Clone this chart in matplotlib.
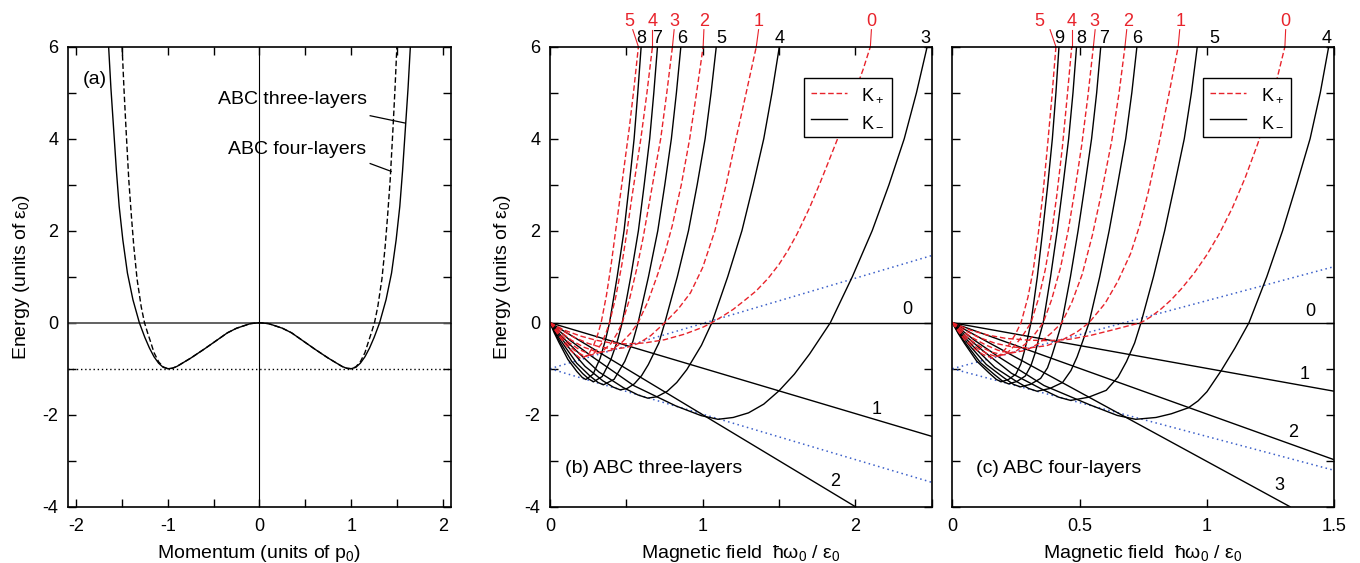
import numpy as np
import matplotlib
matplotlib.use('Agg')
import matplotlib.pyplot as plt
from matplotlib.ticker import MultipleLocator, FixedLocator, NullFormatter

plt.rcParams['font.family'] = ['Liberation Sans', 'DejaVu Sans']
plt.rcParams['mathtext.fontset'] = 'custom'
plt.rcParams['mathtext.rm'] = 'Liberation Sans'
plt.rcParams['mathtext.it'] = 'Liberation Sans:italic'
plt.rcParams['mathtext.sf'] = 'Liberation Sans'
plt.rcParams['mathtext.default'] = 'rm'
plt.rcParams['axes.unicode_minus'] = False

# ---------------- panel (a): dispersion, right half (mirrored) ----------------
a_p3 = [0, 0.1, 0.25, 0.35, 0.5, 0.6, 0.75, 0.9, 0.95, 1.0, 1.05, 1.1, 1.15, 1.2,
        1.25, 1.31, 1.38, 1.44, 1.49, 1.53, 1.56, 1.59, 1.62, 1.645]
a_e3 = [0, -0.02, -0.12, -0.22, -0.43, -0.57, -0.77, -0.95, -0.99, -1.0, -0.97, -0.88,
        -0.74, -0.55, -0.32, 0, 0.5, 1.08, 1.8, 2.53, 3.3, 4.2, 5.1, 6.0]
a_p4 = [0, 0.1, 0.25, 0.35, 0.5, 0.6, 0.75, 0.9, 0.95, 1.0, 1.05, 1.1, 1.15, 1.19,
        1.22, 1.254, 1.29, 1.335, 1.37, 1.396, 1.425, 1.455, 1.478, 1.498]
a_e4 = [0, -0.02, -0.12, -0.22, -0.43, -0.57, -0.77, -0.95, -0.99, -1.0, -0.96, -0.85,
        -0.65, -0.40, -0.22, 0, 0.35, 0.95, 1.65, 2.3, 3.1, 4.2, 5.1, 6.0]

# ---------------- panel (b): ABC three-layers ----------------
# K- (black)
b_km0_x = [0, 2.5];  b_km0_y = [0, 0]
b_km1_x = [0, 2.5];  b_km1_y = [0, -2.47]
b_km2_x = [0, 2.0];  b_km2_y = [0, -4.0]
b_km3_x = [0, 0.13, 0.275, 0.55, 0.825, 0.99, 1.10, 1.2, 1.3, 1.4, 1.50, 1.60, 1.70, 1.836,
           1.98, 2.11, 2.22, 2.32, 2.40, 2.47]
b_km3_y = [0, -0.38, -0.735, -1.37, -1.81, -2.02, -2.10, -2.06, -1.96, -1.77, -1.48, -1.12,
           -0.68, 0, 1, 2, 3, 4, 5, 6]
b_km4_x = [0, 0.077, 0.16, 0.32, 0.48, 0.576, 0.64, 0.70, 0.768, 0.83, 0.896, 0.992, 1.06,
           1.164, 1.257, 1.331, 1.40, 1.454, 1.502]
b_km4_y = [0, -0.30, -0.57, -1.07, -1.41, -1.57, -1.64, -1.61, -1.49, -1.30, -1.02, -0.49, 0,
           1, 2, 3, 4, 5, 6]
b_km5_x = [0, 0.055, 0.115, 0.23, 0.345, 0.414, 0.46, 0.505, 0.552, 0.60, 0.644, 0.713, 0.752,
           0.834, 0.907, 0.964, 1.016, 1.055, 1.089]
b_km5_y = [0, -0.26, -0.51, -0.95, -1.26, -1.40, -1.46, -1.43, -1.33, -1.15, -0.91, -0.44, 0,
           1, 2, 3, 4, 5, 6]
b_km6_x = [0, 0.042, 0.0875, 0.175, 0.2625, 0.315, 0.35, 0.42, 0.49, 0.5425, 0.577, 0.645,
           0.706, 0.752, 0.795, 0.828, 0.857]
b_km6_y = [0, -0.24, -0.47, -0.88, -1.16, -1.30, -1.35, -1.23, -0.84, -0.41, 0, 1, 2, 3, 4, 5, 6]
b_km7_x = [0, 0.034, 0.071, 0.1425, 0.214, 0.2565, 0.285, 0.342, 0.399, 0.442, 0.473, 0.529,
           0.579, 0.617, 0.653, 0.68, 0.704]
b_km7_y = [0, -0.23, -0.45, -0.84, -1.105, -1.23, -1.285, -1.17, -0.80, -0.39, 0, 1, 2, 3, 4, 5, 6]
b_km8_x = [0, 0.028, 0.059, 0.1175, 0.176, 0.2115, 0.235, 0.282, 0.329, 0.364, 0.39, 0.44,
           0.485, 0.519, 0.551, 0.575, 0.597]
b_km8_y = [0, -0.22, -0.43, -0.80, -1.06, -1.19, -1.235, -1.12, -0.77, -0.37, 0, 1, 2, 3, 4, 5, 6]
# K+ (red)
b_kp0_x = [0, 0.1, 0.2, 0.3, 0.4, 0.5, 0.62, 0.75, 0.88, 1.0, 1.06, 1.13, 1.2, 1.28, 1.35,
           1.43, 1.5, 1.56, 1.618, 1.7, 1.77, 1.83, 1.886, 1.94, 2.0, 2.05, 2.098]
b_kp0_y = [0, -0.17, -0.29, -0.38, -0.44, -0.46, -0.44, -0.37, -0.25, -0.1, 0, 0.14, 0.29,
           0.5, 0.69, 0.97, 1.27, 1.58, 1.93, 2.5, 3.05, 3.55, 4.02, 4.5, 5.05, 5.5, 6.0]
b_kp1_x = [0, 0.08, 0.16, 0.25, 0.33, 0.42, 0.5, 0.58, 0.66, 0.752, 0.84, 0.92, 1.0, 1.08,
           1.15, 1.215, 1.285, 1.351]
b_kp1_y = [0, -0.17, -0.32, -0.45, -0.53, -0.57, -0.54, -0.45, -0.28, 0, 0.3, 0.65, 1.2,
           2.0, 2.95, 3.95, 5.0, 6.0]
b_kp2_x = [0, 0.07, 0.14, 0.22, 0.32, 0.4, 0.47, 0.53, 0.577, 0.64, 0.7, 0.755, 0.8, 0.86,
           0.915, 0.96, 1.003]
b_kp2_y = [0, -0.2, -0.38, -0.53, -0.65, -0.6, -0.43, -0.22, 0, 0.45, 1.0, 1.55, 2.1, 3.0,
           4.0, 5.0, 6.0]
b_kp3_x = [0, 0.06, 0.12, 0.19, 0.27, 0.34, 0.4, 0.44, 0.473, 0.52, 0.57, 0.61, 0.65, 0.69,
           0.725, 0.765, 0.802]
b_kp3_y = [0, -0.22, -0.42, -0.58, -0.7, -0.63, -0.45, -0.23, 0, 0.5, 1.2, 1.85, 2.6, 3.35,
           4.0, 5.0, 6.0]
b_kp4_x = [0, 0.05, 0.1, 0.16, 0.23, 0.29, 0.335, 0.365, 0.39, 0.43, 0.47, 0.505, 0.535,
           0.565, 0.595, 0.635, 0.671]
b_kp4_y = [0, -0.22, -0.42, -0.6, -0.74, -0.66, -0.47, -0.24, 0, 0.55, 1.25, 2.0, 2.7, 3.35,
           4.0, 5.0, 6.0]
b_kp5_x = [0, 0.045, 0.09, 0.14, 0.2, 0.25, 0.285, 0.313, 0.335, 0.37, 0.4, 0.43, 0.46,
           0.49, 0.52, 0.55, 0.579]
b_kp5_y = [0, -0.22, -0.43, -0.62, -0.78, -0.7, -0.5, -0.25, 0, 0.6, 1.25, 2.0, 2.75, 3.5,
           4.25, 5.1, 6.0]
b_dot_up_x = [0, 2.5];  b_dot_up_y = [-1, 1.46]
b_dot_lo_x = [0, 2.5];  b_dot_lo_y = [-1, -3.47]

# ---------------- panel (c): ABC four-layers ----------------
c_km0_x = [0, 1.5];    c_km0_y = [0, 0]
c_km1_x = [0, 1.5];    c_km1_y = [0, -1.49]
c_km2_x = [0, 1.5];    c_km2_y = [0, -2.98]
c_km3_x = [0, 1.326];  c_km3_y = [0, -4.0]
c_km4_x = [0, 0.0864, 0.18, 0.36, 0.54, 0.648, 0.72, 0.8, 0.86, 0.927, 0.965, 1.0, 1.055,
           1.11, 1.165, 1.235, 1.297, 1.352, 1.405, 1.445, 1.478]
c_km4_y = [0, -0.378, -0.735, -1.365, -1.785, -2.016, -2.1, -2.06, -1.98, -1.85, -1.7, -1.5,
           -1.05, -0.55, 0, 1, 2, 3, 4, 5, 6]
c_km5_x = [0, 0.0558, 0.116, 0.2325, 0.349, 0.4185, 0.465, 0.535, 0.6045, 0.651, 0.684,
           0.716, 0.741, 0.79, 0.834, 0.873, 0.911, 0.939, 0.962]
c_km5_y = [0, -0.304, -0.59, -1.10, -1.437, -1.62, -1.69, -1.62, -1.47, -1.18, -0.845, -0.44,
           0, 1, 2, 3, 4, 5, 6]
c_km6_x = [0, 0.04, 0.0833, 0.1665, 0.25, 0.30, 0.333, 0.383, 0.433, 0.466, 0.49, 0.513,
           0.537, 0.579, 0.616, 0.649, 0.681, 0.705, 0.725]
c_km6_y = [0, -0.268, -0.52, -0.97, -1.27, -1.43, -1.49, -1.43, -1.30, -1.04, -0.745, -0.39,
           0, 1, 2, 3, 4, 5, 6]
c_km7_x = [0, 0.032, 0.0668, 0.1335, 0.2, 0.24, 0.267, 0.307, 0.347, 0.374, 0.392, 0.411,
           0.43, 0.464, 0.494, 0.521, 0.547, 0.567, 0.583]
c_km7_y = [0, -0.25, -0.49, -0.907, -1.186, -1.34, -1.395, -1.34, -1.21, -0.98, -0.70, -0.36,
           0, 1, 2, 3, 4, 5, 6]
c_km8_x = [0, 0.0265, 0.055, 0.11, 0.166, 0.199, 0.221, 0.254, 0.287, 0.309, 0.325, 0.34,
           0.357, 0.386, 0.412, 0.435, 0.457, 0.474, 0.488]
c_km8_y = [0, -0.24, -0.466, -0.865, -1.13, -1.277, -1.33, -1.277, -1.157, -0.93, -0.665,
           -0.346, 0, 1, 2, 3, 4, 5, 6]
c_km9_x = [0, 0.023, 0.048, 0.096, 0.144, 0.173, 0.192, 0.221, 0.25, 0.269, 0.282, 0.296,
           0.309, 0.334, 0.355, 0.375, 0.393, 0.407, 0.419]
c_km9_y = [0, -0.231, -0.449, -0.835, -1.09, -1.233, -1.284, -1.233, -1.117, -0.9, -0.642,
           -0.334, 0, 1, 2, 3, 4, 5, 6]
c_kp0_x = [0, 0.07, 0.14, 0.21, 0.3, 0.38, 0.46, 0.54, 0.62, 0.69, 0.741, 0.78, 0.82, 0.86,
           0.9, 0.95, 1.0, 1.05, 1.1, 1.15, 1.2, 1.255, 1.306]
c_kp0_y = [0, -0.16, -0.27, -0.34, -0.38, -0.39, -0.36, -0.28, -0.17, -0.07, 0, 0.13, 0.3,
           0.5, 0.74, 1.08, 1.48, 1.95, 2.5, 3.15, 3.9, 4.85, 6.0]
c_kp1_x = [0, 0.05, 0.1, 0.17, 0.24, 0.3, 0.37, 0.43, 0.49, 0.537, 0.6, 0.65, 0.7, 0.735,
           0.77, 0.81, 0.85, 0.887]
c_kp1_y = [0, -0.17, -0.31, -0.45, -0.53, -0.55, -0.5, -0.38, -0.2, 0, 0.42, 0.9, 1.5, 2.1,
           2.85, 3.85, 4.95, 6.0]
c_kp2_x = [0, 0.04, 0.08, 0.13, 0.18, 0.23, 0.29, 0.34, 0.39, 0.43, 0.47, 0.51, 0.55, 0.587,
           0.626, 0.655, 0.678]
c_kp2_y = [0, -0.18, -0.33, -0.48, -0.6, -0.66, -0.6, -0.45, -0.22, 0, 0.45, 1.05, 1.9, 2.85,
           3.95, 5.0, 6.0]
c_kp3_x = [0, 0.035, 0.07, 0.11, 0.155, 0.2, 0.25, 0.29, 0.325, 0.357, 0.39, 0.425, 0.455,
           0.482, 0.508, 0.532, 0.554]
c_kp3_y = [0, -0.2, -0.37, -0.52, -0.64, -0.7, -0.62, -0.45, -0.24, 0, 0.5, 1.2, 2.0, 2.9,
           3.85, 4.9, 6.0]
c_kp4_x = [0, 0.03, 0.06, 0.095, 0.135, 0.175, 0.215, 0.25, 0.28, 0.309, 0.34, 0.365, 0.39,
           0.41, 0.432, 0.451, 0.469]
c_kp4_y = [0, -0.2, -0.38, -0.54, -0.67, -0.74, -0.66, -0.47, -0.25, 0, 0.55, 1.15, 1.95,
           2.75, 3.8, 4.9, 6.0]
c_kp5_x = [0, 0.025, 0.05, 0.085, 0.12, 0.158, 0.19, 0.22, 0.247, 0.27, 0.297, 0.318, 0.338,
           0.356, 0.374, 0.391, 0.407]
c_kp5_y = [0, -0.2, -0.38, -0.56, -0.69, -0.77, -0.69, -0.5, -0.26, 0, 0.55, 1.15, 1.95, 2.8,
           3.85, 4.9, 6.0]
c_dot_up_x = [0, 1.5];  c_dot_up_y = [-1, 1.22]
c_dot_lo_x = [0, 1.5];  c_dot_lo_y = [-1, -3.21]

# level labels: (text, x) above top frame; red leaders (x_label, x_curve)
b_top_black = [('8', 0.597), ('7', 0.704), ('6', 0.863), ('5', 1.121), ('4', 1.504), ('3', 2.459)]
b_top_red = [('5', 0.52, 0.542, 0.579), ('4', 0.673, 0.671, 0.671), ('3', 0.813, 0.813, 0.802),
             ('2', 1.012, 1.008, 1.003), ('1', 1.366, 1.366, 1.351), ('0', 2.105, 2.105, 2.098)]
c_top_black = [('9', 0.419), ('8', 0.505), ('7', 0.597), ('6', 0.728), ('5', 1.029), ('4', 1.47)]
c_top_red = [('5', 0.34, 0.384, 0.407), ('4', 0.469, 0.469, 0.469), ('3', 0.558, 0.561, 0.554),
             ('2', 0.689, 0.685, 0.678), ('1', 0.897, 0.893, 0.887), ('0', 1.309, 1.309, 1.306)]
b_side = [('0', 2.339, 0.28), ('1', 2.142, -1.89), ('2', 1.869, -3.45)]
c_side = [('0', 1.407, 0.25), ('1', 1.385, -1.13), ('2', 1.34, -2.38), ('3', 1.285, -3.54)]

RED = '#e8232b'
BLUE = '#3b5fc9'
FS = 13

fig = plt.figure(figsize=(13.6, 5.63), dpi=100)
ax_a = fig.add_axes([0.0502, 0.100, 0.2812, 0.817])
ax_b = fig.add_axes([0.4044, 0.100, 0.2807, 0.817])
ax_c = fig.add_axes([0.7002, 0.100, 0.2809, 0.817])

for ax in (ax_a, ax_b, ax_c):
    for s in ax.spines.values():
        s.set_linewidth(1.2)
    ax.tick_params(which='both', direction='in', top=True, right=True, length=6,
                   width=1, labelsize=FS)
    ax.tick_params(axis='x', pad=8)
    ax.tick_params(axis='y', pad=7)
    ax.set_ylim(-4, 6)
    ax.yaxis.set_major_locator(MultipleLocator(2))
    ax.yaxis.set_minor_locator(MultipleLocator(1))

# ---- (a)
p3 = np.concatenate([-np.array(a_p3[::-1]), np.array(a_p3[1:])])
e3 = np.concatenate([np.array(a_e3[::-1]), np.array(a_e3[1:])])
p4 = np.concatenate([-np.array(a_p4[::-1]), np.array(a_p4[1:])])
e4 = np.concatenate([np.array(a_e4[::-1]), np.array(a_e4[1:])])
ax_a.axhline(0, color='#555555', lw=1.3)
ax_a.axvline(0, color='black', lw=0.8)
ax_a.axhline(-1, color='black', lw=1, ls=(0, (1, 2)))
ax_a.plot(p3, e3, color='black', lw=1)
ax_a.plot(p4, e4, color='black', lw=1, ls=(0, (4, 2)))
ax_a.set_xlim(-2.085, 2.085)
ax_a.xaxis.set_major_locator(MultipleLocator(1))
ax_a.xaxis.set_minor_locator(MultipleLocator(0.5))
ax_a.text(-1.925, 5.28, '(a)', fontsize=14, va='center')
ax_a.text(-0.447, 4.85, 'ABC three-layers', fontsize=14, va='center')
ax_a.text(-0.338, 3.76, 'ABC four-layers', fontsize=14, va='center')
ax_a.plot([1.207, 1.589], [4.50, 4.34], color='black', lw=0.9)
ax_a.plot([1.207, 1.436], [3.46, 3.29], color='black', lw=0.9)
ax_a.set_xlabel('Momentum (units of p$_0$)', fontsize=14, labelpad=6)
ax_a.set_ylabel('Energy (units of ε$_0$)', fontsize=14, labelpad=8)


def landau_panel(ax, km, kp, dots, top_black, top_red, side, xmax):
    for x, y in dots:
        ax.plot(x, y, color=BLUE, lw=1.1, ls=(0, (1, 2.2)))
    for x, y in km:
        ax.plot(x, y, color='black', lw=1)
    for x, y in kp:
        ax.plot(x, y, color=RED, lw=1, ls=(0, (4, 2)))
    ax.set_xlim(0, xmax)
    for t, x in top_black:
        ax.text(x, 6.17, t, fontsize=FS, ha='center', va='center', clip_on=False)
    for t, x, xl, xc in top_red:
        ax.text(x, 6.54, t, fontsize=FS, ha='center', va='center', color=RED, clip_on=False)
        ax.plot([xl, xc], [6.37, 6.0], color=RED, lw=0.8, clip_on=False)
    for t, x, y in side:
        ax.text(x, y, t, fontsize=FS, ha='center', va='center')
    ax.set_xlabel('Magnetic field  ħω$_0$ / ε$_0$', fontsize=14, labelpad=6)


# ---- (b)
landau_panel(ax_b,
             [(b_km0_x, b_km0_y), (b_km1_x, b_km1_y), (b_km2_x, b_km2_y), (b_km3_x, b_km3_y),
              (b_km4_x, b_km4_y), (b_km5_x, b_km5_y), (b_km6_x, b_km6_y), (b_km7_x, b_km7_y),
              (b_km8_x, b_km8_y)],
             [(b_kp0_x, b_kp0_y), (b_kp1_x, b_kp1_y), (b_kp2_x, b_kp2_y), (b_kp3_x, b_kp3_y),
              (b_kp4_x, b_kp4_y), (b_kp5_x, b_kp5_y)],
             [(b_dot_up_x, b_dot_up_y), (b_dot_lo_x, b_dot_lo_y)],
             b_top_black, b_top_red, b_side, 2.5)
ax_b.xaxis.set_major_locator(MultipleLocator(1))
ax_b.xaxis.set_minor_locator(MultipleLocator(0.5))
ax_b.text(0.098, -3.16, '(b) ABC three-layers', fontsize=14, va='center')
ax_b.set_ylabel('Energy (units of ε$_0$)', fontsize=14, labelpad=8)

# ---- (c)
landau_panel(ax_c,
             [(c_km0_x, c_km0_y), (c_km1_x, c_km1_y), (c_km2_x, c_km2_y), (c_km3_x, c_km3_y),
              (c_km4_x, c_km4_y), (c_km5_x, c_km5_y), (c_km6_x, c_km6_y), (c_km7_x, c_km7_y),
              (c_km8_x, c_km8_y), (c_km9_x, c_km9_y)],
             [(c_kp0_x, c_kp0_y), (c_kp1_x, c_kp1_y), (c_kp2_x, c_kp2_y), (c_kp3_x, c_kp3_y),
              (c_kp4_x, c_kp4_y), (c_kp5_x, c_kp5_y)],
             [(c_dot_up_x, c_dot_up_y), (c_dot_lo_x, c_dot_lo_y)],
             c_top_black, c_top_red, c_side, 1.5)
ax_c.xaxis.set_major_locator(FixedLocator([0, 0.5, 1, 1.5]))
ax_c.set_xticklabels(['0', '0.5', '1', '1.5'])
ax_c.yaxis.set_major_formatter(NullFormatter())
ax_c.text(0.092, -3.16, '(c) ABC four-layers', fontsize=14, va='center')

# legends
for ax, bx in ((ax_b, 0.895), (ax_c, 0.887)):
    h1, = ax.plot([], [], color=RED, lw=1, ls=(0, (4, 2)))
    h2, = ax.plot([], [], color='black', lw=1)
    leg = ax.legend([h1, h2], ['K$_+$', 'K$_-$'], loc='upper right',
                    bbox_to_anchor=(bx, 0.931), borderaxespad=0, fontsize=FS,
                    handlelength=2.0, fancybox=False, framealpha=1, edgecolor='black')
    leg.get_frame().set_linewidth(1.0)

fig.savefig('out.png', dpi=100)
